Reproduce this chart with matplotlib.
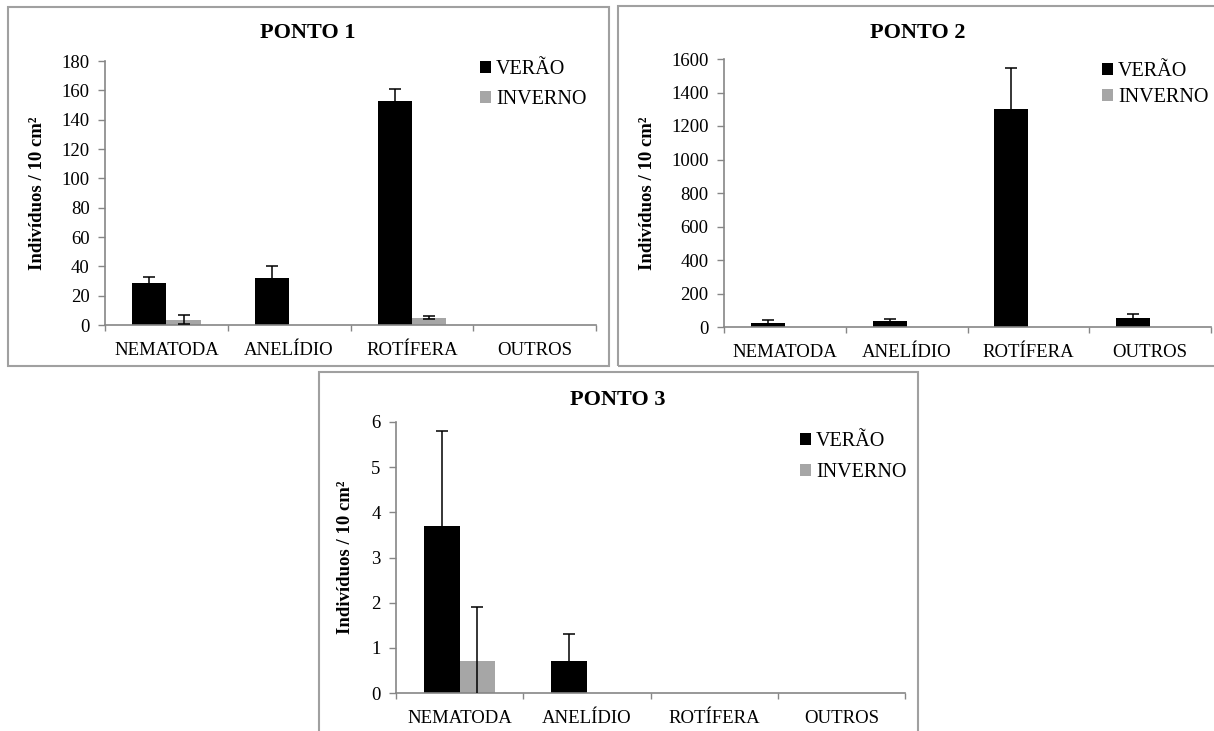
import matplotlib
matplotlib.use("Agg")
import matplotlib.pyplot as plt
from matplotlib.patches import Rectangle, Patch
import numpy as np

plt.rcParams['font.family'] = ['Liberation Serif', 'DejaVu Serif']

categories = ["NEMATODA", "ANELÍDIO", "ROTÍFERA", "OUTROS"]
series_names = ["VERÃO", "INVERNO"]

p1_verao = [28.5, 32, 153, 0]
p1_verao_err = [4, 8, 8, 0]
p1_inverno = [3.5, 0, 5, 0]
p1_inverno_err = [3, 0, 1, 0]

p2_verao = [25, 35, 1300, 55]
p2_verao_err = [15, 15, 245, 25]
p2_inverno = [2, 2, 2, 2]
p2_inverno_err = [0, 0, 0, 0]

p3_verao = [3.7, 0.7, 0, 0]
p3_verao_err = [2.1, 0.6, 0, 0]
p3_inverno = [0.7, 0, 0, 0]
p3_inverno_err = [1.2, 0, 0, 0]

titles = ["PONTO 1", "PONTO 2", "PONTO 3"]
y_ticks = [list(range(0, 181, 20)), list(range(0, 1601, 200)), list(range(0, 7, 1))]
ylabel = "Indivíduos / 10 cm²"

W, H = 1214, 731
fig = plt.figure(figsize=(W / 100, H / 100), dpi=100)

def fx(px):
    return px / W

def fy(py):
    return 1 - py / H

BLACK = "#000000"
GRAY = "#a6a6a6"
AXC = "#868686"

# panel boxes (pixel coords: left, top, right, bottom)
boxes = [(8, 7, 609, 366), (618, 6, 1230, 366), (319, 372, 918, 740)]
for (l, t, r, b) in boxes:
    fig.patches.append(Rectangle((fx(l), fy(b)), fx(r - l), (b - t) / H,
                                 transform=fig.transFigure, fill=False,
                                 edgecolor="#a0a0a0", linewidth=1.5, zorder=0))

# axes rectangles in pixels (left, top, right, bottom)
axes_px = [(105, 61, 596, 325), (724, 59, 1211, 327), (396, 422, 905, 693)]
data = [
    (p1_verao, p1_verao_err, p1_inverno, p1_inverno_err),
    (p2_verao, p2_verao_err, p2_inverno, p2_inverno_err),
    (p3_verao, p3_verao_err, p3_inverno, p3_inverno_err),
]
title_xy = [(308, 33), (918, 33), (618, 400)]
ylabel_xy = [(38, 193), (647, 193), (345, 557)]
legend_xy = [(480, 60), (1102, 62), (800, 432)]
legend_spacing = [0.55, 0.35, 0.6]

x = np.arange(len(categories))
bw = 0.28


def draw_err(ax, xpos, vals, errs):
    xpos = np.asarray(xpos)
    vals = np.asarray(vals, dtype=float)
    errs = np.asarray(errs, dtype=float)
    pos = errs > 0
    if pos.any():
        ax.errorbar(xpos[pos], vals[pos], yerr=errs[pos], fmt='none',
                    ecolor=BLACK, elinewidth=1.1, capsize=4, capthick=1.1,
                    zorder=3)
    if (~pos).any():
        ax.errorbar(xpos[~pos], vals[~pos], yerr=errs[~pos], fmt='none',
                    ecolor="#9a9a9a", elinewidth=0, capsize=6, capthick=1.3,
                    zorder=3, clip_on=False)


for i, (l, t, r, b) in enumerate(axes_px):
    ax = fig.add_axes([fx(l), fy(b), fx(r - l), (b - t) / H])
    v, ve, w, we = data[i]
    ax.bar(x - bw / 2, v, width=bw, color=BLACK, zorder=2)
    ax.bar(x + bw / 2, w, width=bw, color=GRAY, zorder=2)
    draw_err(ax, x - bw / 2, v, ve)
    draw_err(ax, x + bw / 2, w, we)
    ax.set_xlim(-0.5, len(categories) - 0.5)
    ax.set_ylim(y_ticks[i][0], y_ticks[i][-1])
    ax.set_yticks(y_ticks[i])
    ax.set_yticklabels([str(t_) for t_ in y_ticks[i]], fontsize=13.5)
    ax.set_xticks(x)
    ax.set_xticklabels(categories, fontsize=13.5)
    ax.set_xticks(np.arange(len(categories) + 1) - 0.5, minor=True)
    ax.tick_params(axis='x', which='major', length=0, pad=12)
    ax.tick_params(axis='x', which='minor', length=4, direction='out',
                   color=AXC, width=1)
    ax.tick_params(axis='y', length=5, direction='out', color=AXC,
                   width=1, pad=6)
    for s in ['top', 'right']:
        ax.spines[s].set_visible(False)
    for s in ['left', 'bottom']:
        ax.spines[s].set_color(AXC)
        ax.spines[s].set_linewidth(1.2)
    ax.patch.set_alpha(0)

    fig.text(fx(title_xy[i][0]), fy(title_xy[i][1]), titles[i],
             ha='center', va='center', fontsize=16, fontweight='bold')
    fig.text(fx(ylabel_xy[i][0]), fy(ylabel_xy[i][1]), ylabel,
             ha='center', va='center', rotation=90, fontsize=13.5,
             fontweight='bold')
    handles = [Patch(facecolor=BLACK, edgecolor='none'),
               Patch(facecolor=GRAY, edgecolor='none')]
    fig.legend(handles, series_names, loc='upper left',
               bbox_to_anchor=(fx(legend_xy[i][0]), fy(legend_xy[i][1])),
               frameon=False, fontsize=14.5, handlelength=0.55,
               handleheight=0.55, handletextpad=0.25,
               labelspacing=legend_spacing[i], borderpad=0,
               borderaxespad=0)

fig.savefig("out.png", dpi=100)
